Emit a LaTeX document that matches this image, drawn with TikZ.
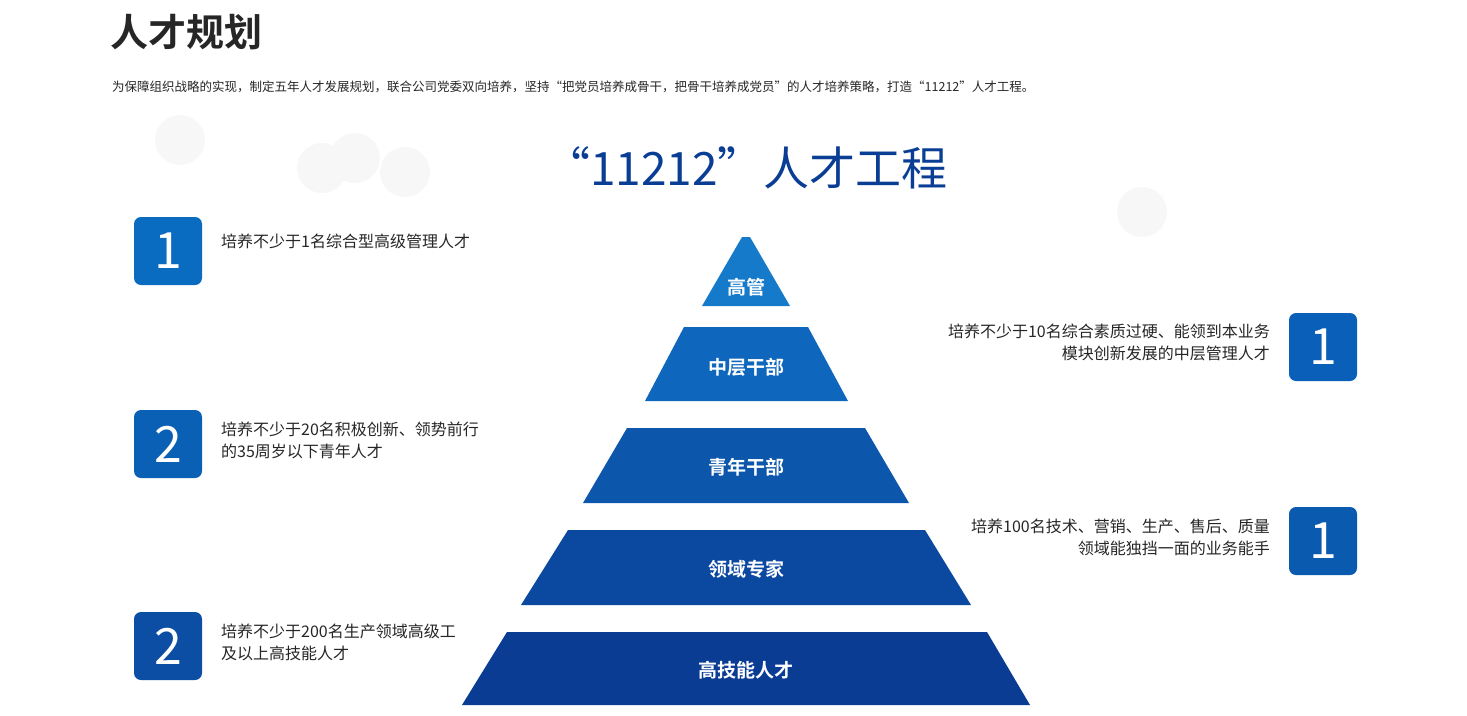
\documentclass[tikz,border=0pt]{standalone}
\usepackage{fontspec}
\setmainfont{Noto Sans CJK SC}
\newfontfamily\cjkb{Noto Sans CJK SC Bold}
\begin{document}
\begin{tikzpicture}[x=1pt,y=-1pt,
  lvl/.style={draw=none},
  lbl/.style={text=white,font=\cjkb\fontsize{19}{22}\selectfont},
  numbox/.style={rounded corners=7pt,minimum width=68pt,minimum height=68pt,text=white,font=\fontsize{50}{50}\selectfont},
  desc/.style={font=\fontsize{16}{22}\selectfont,text=black!85,inner sep=0pt},
  blob/.style={fill=black!3,draw=none}]
\useasboundingbox (0,0) rectangle (1467,715);
\fill[blob] (180,140) circle (25);
\fill[blob] (322,168) circle (25);
\fill[blob] (355,158) circle (25);
\fill[blob] (405,172) circle (25);
\fill[blob] (1142,212) circle (25);
\node[anchor=west,inner sep=0pt,font=\cjkb\fontsize{38}{40}\selectfont,text=black!85] (t) at (110,32) {人才规划};
\node[anchor=west,inner sep=0pt,font=\fontsize{12.5}{14}\selectfont,text=black!85] (st) at (112,87) {为保障组织战略的实现，制定五年人才发展规划，联合公司党委双向培养，坚持“把党员培养成骨干，把骨干培养成党员”的人才培养策略，打造“11212”人才工程。};
\node[font=\fontsize{46}{50}\selectfont,text={rgb,255:red,10;green,61;blue,148}] (bt) at (746,168) {“11212”人才工程};
\definecolor{c1}{RGB}{22,122,202}
\definecolor{c2}{RGB}{14,103,189}
\definecolor{c3}{RGB}{12,86,172}
\definecolor{c4}{RGB}{11,72,160}
\definecolor{c5}{RGB}{10,60,148}
\fill[c1] (742,237) -- (750,237) -- (790,306) -- (702,306) -- cycle;
\fill[c2] (684,327) -- (808,327) -- (848,401) -- (645,401) -- cycle;
\fill[c3] (627,428) -- (865,428) -- (909,503) -- (583,503) -- cycle;
\fill[c4] (568,530) -- (925,530) -- (971,605) -- (521,605) -- cycle;
\fill[c5] (507,632) -- (987,632) -- (1030,705) -- (462,705) -- cycle;
\node[lbl] (l1) at (746,287) {高管};
\node[lbl] (l2) at (746,367) {中层干部};
\node[lbl] (l3) at (746,467) {青年干部};
\node[lbl] (l4) at (746,569) {领域专家};
\node[lbl] (l5) at (746,670) {高技能人才};
\node[numbox,fill={rgb,255:red,10;green,108;blue,192}] (n1) at (168,251) {1};
\node[numbox,fill={rgb,255:red,10;green,96;blue,180}] (n2) at (168,444) {2};
\node[numbox,fill={rgb,255:red,11;green,78;blue,163}] (n3) at (168,646) {2};
\node[numbox,fill={rgb,255:red,10;green,96;blue,184}] (n4) at (1323,347) {1};
\node[numbox,fill={rgb,255:red,10;green,90;blue,176}] (n5) at (1323,541) {1};
\node[desc,anchor=north west,align=left] (d1) at (221,234) {培养不少于1名综合型高级管理人才};
\node[desc,anchor=north west,align=left] (d2) at (221,422) {培养不少于20名积极创新、领势前行\\的35周岁以下青年人才};
\node[desc,anchor=north west,align=left] (d3) at (221,624) {培养不少于200名生产领域高级工\\及以上高技能人才};
\node[desc,anchor=north east,align=right] (d4) at (1270,324) {培养不少于10名综合素质过硬、能领到本业务\\模块创新发展的中层管理人才};
\node[desc,anchor=north east,align=right] (d5) at (1270,519) {培养100名技术、营销、生产、售后、质量\\领域能独挡一面的业务能手};
\end{tikzpicture}
\end{document}
